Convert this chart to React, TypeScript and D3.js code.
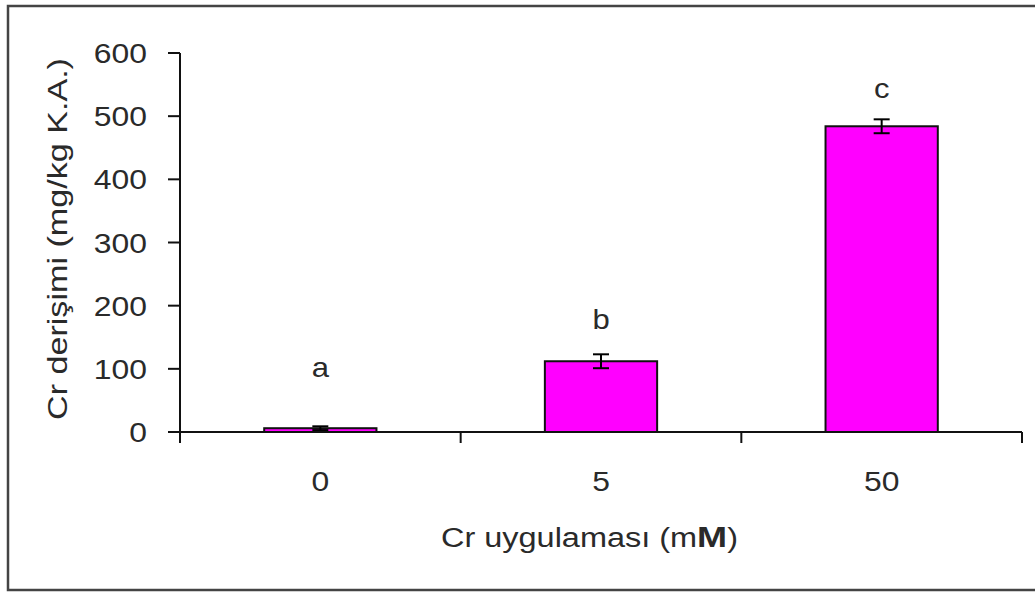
import React from 'react';
import * as d3 from 'd3';

// treatment levels (mM) and measured Cr concentration
const doses = ['0', '5', '50'];
const means = [6, 112, 484];
const errors = [3, 11, 11];
const letters = ['a', 'b', 'c'];
// where the significance letters sit, in data units
const letterLevels = [87, 163, 528];
const yTicks = [0, 100, 200, 300, 400, 500, 600];

const App = () => {
  const width = 1035;
  const height = 592;
  const font = '"Liberation Sans", Arial, sans-serif';
  const ink = '#2a2a2a';

  const x = d3.scaleBand().domain(doses).range([180, 1022]).padding(0);
  const y = d3.scaleLinear().domain([0, 600]).range([432, 53]);
  const barW = x.bandwidth() * 0.4;
  const capW = 16;

  return (
    <svg width={width} height={height} style={{ display: 'block', position: 'absolute', left: 0, top: 0 }}>
      <rect x={0} y={0} width={width} height={height} fill="#fff" />
      <rect x={8} y={6} width={1100} height={584} fill="none" stroke="#444" strokeWidth={2.5} />

      {/* bars */}
      {doses.map((d, i) => {
        const cx = x(d)! + x.bandwidth() / 2;
        return (
          <g key={d}>
            <rect x={cx - barW / 2} y={y(means[i])} width={barW} height={y(0) - y(means[i])}
              fill="#ff00ff" stroke="#111" strokeWidth={2} />
            <line x1={cx} x2={cx} y1={y(means[i] + errors[i])} y2={y(means[i] - errors[i])} stroke="#000" strokeWidth={2} />
            <line x1={cx - capW / 2} x2={cx + capW / 2} y1={y(means[i] + errors[i])} y2={y(means[i] + errors[i])} stroke="#000" strokeWidth={2} />
            <line x1={cx - capW / 2} x2={cx + capW / 2} y1={y(means[i] - errors[i])} y2={y(means[i] - errors[i])} stroke="#000" strokeWidth={2} />
            <text transform={`translate(${cx},${y(letterLevels[i])}) scale(1.15,1)`} textAnchor="middle"
              fontFamily={font} fontSize={27} fill={ink}>{letters[i]}</text>
          </g>
        );
      })}

      {/* y axis */}
      <line x1={180} x2={180} y1={y(600)} y2={443} stroke="#111" strokeWidth={2} />
      {yTicks.map(t => (
        <g key={t}>
          <line x1={168} x2={180} y1={y(t)} y2={y(t)} stroke="#111" strokeWidth={2} />
          <text transform={`translate(147,${y(t) + 10}) scale(1.18,1)`} textAnchor="end"
            fontFamily={font} fontSize={27} fill={ink}>{t}</text>
        </g>
      ))}

      {/* x axis */}
      <line x1={168} x2={1022} y1={y(0)} y2={y(0)} stroke="#111" strokeWidth={2} />
      {doses.map(d => (
        <line key={d} x1={x(d)! + x.bandwidth()} x2={x(d)! + x.bandwidth()} y1={y(0)} y2={443} stroke="#111" strokeWidth={2} />
      ))}
      {doses.map(d => (
        <text key={d} transform={`translate(${x(d)! + x.bandwidth() / 2},491) scale(1.18,1)`} textAnchor="middle"
          fontFamily={font} fontSize={27} fill={ink}>{d}</text>
      ))}

      <text x={441} y={547} textLength={297} lengthAdjust="spacingAndGlyphs"
        fontFamily={font} fontSize={27} fill={ink}>
        Cr uygulaması (m<tspan fontWeight="bold" fontSize={30}>M</tspan>)
      </text>
      <text transform="translate(67,239) rotate(-90)" textAnchor="middle" textLength={362} lengthAdjust="spacingAndGlyphs"
        fontFamily={font} fontSize={27} fill={ink}>
        Cr derişimi (mg/kg K.A.)
      </text>
    </svg>
  );
};

export default App;
